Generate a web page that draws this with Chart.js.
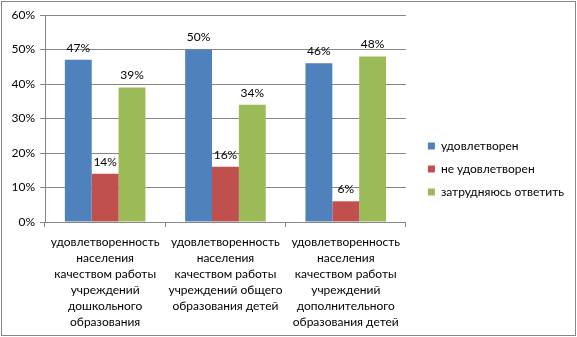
<!DOCTYPE html>
<html>
<head>
<meta charset="utf-8">
<script src="https://cdn.jsdelivr.net/npm/chart.js@4"></script>
<style>
  body { margin: 0; background: #fff; }
  #wrap { width: 577px; height: 337px; }
</style>
</head>
<body>
<div id="wrap"><canvas id="surveyChart"></canvas></div>
<script>
// data
const categories = [
    ['удовлетворенность', 'населения', 'качеством работы', 'учреждений', 'дошкольного', 'образования'],
    ['удовлетворенность', 'населения', 'качеством работы', 'учреждений общего', 'образования детей'],
    ['удовлетворенность', 'населения', 'качеством работы', 'учреждений', 'дополнительного', 'образования детей']
];
const seriesNames = ['удовлетворен', 'не удовлетворен', 'затрудняюсь ответить'];
const satisfied = [47, 50, 46];
const notSatisfied = [14, 16, 6];
const hardToSay = [39, 34, 48];
const yTicks = [0, 10, 20, 30, 40, 50, 60];

const colors = ['#4f81bd', '#c0504d', '#9bbb59'];
const fontFamily = 'Lato, "Open Sans", sans-serif';

// white background + thin frame like the Excel chart box
const frame = {
    id: 'frame',
    beforeDraw(chart) {
        const ctx = chart.ctx;
        ctx.save();
        ctx.fillStyle = '#fff';
        ctx.fillRect(0, 0, chart.width, chart.height);
        ctx.strokeStyle = '#868686';
        ctx.lineWidth = 1;
        ctx.strokeRect(1.5, 1.5, chart.width - 3, chart.height - 3);
        ctx.restore();
    }
};

// push the legend a bit away from the plot area and up
const legendGap = {
    id: 'legendGap',
    afterLayout(chart) {
        chart.legend.left += 11;
        chart.legend.right += 11;
        chart.legend.top -= 7;
        chart.legend.bottom -= 7;
    }
};

// value labels above each bar
const barLabels = {
    id: 'barLabels',
    afterDatasetsDraw(chart) {
        const ctx = chart.ctx;
        ctx.save();
        ctx.font = '12px ' + fontFamily;
        ctx.fillStyle = '#000';
        ctx.textAlign = 'center';
        ctx.textBaseline = 'bottom';
        chart.data.datasets.forEach((ds, i) => {
            chart.getDatasetMeta(i).data.forEach((bar, j) => {
                ctx.fillText(ds.data[j] + '%', bar.x, bar.y - 6);
            });
        });
        ctx.restore();
    }
};

const seriesData = [satisfied, notSatisfied, hardToSay];

new Chart(document.getElementById('surveyChart'), {
    type: 'bar',
    data: {
        labels: categories,
        datasets: seriesNames.map((name, i) => ({
            label: name,
            data: seriesData[i],
            backgroundColor: colors[i],
            barPercentage: 1,
            categoryPercentage: 0.67
        }))
    },
    options: {
        responsive: true,
        maintainAspectRatio: false,
        animation: false,
        layout: { padding: { top: 15, right: 14, left: 9, bottom: 0 } },
        plugins: {
            legend: {
                position: 'right',
                maxWidth: 220,
                labels: {
                    boxWidth: 7,
                    boxHeight: 7,
                    padding: 11,
                    color: '#000',
                    font: { family: fontFamily, size: 12 }
                }
            },
            tooltip: { enabled: false }
        },
        scales: {
            x: {
                afterFit(scale) { scale.height = 115; },
                grid: {
                    offset: true,
                    drawOnChartArea: false,
                    tickLength: 5,
                    color: '#868686'
                },
                border: { color: '#868686' },
                ticks: {
                    color: '#000',
                    maxRotation: 0,
                    padding: 7,
                    font: { family: fontFamily, size: 12, lineHeight: 1.33 }
                }
            },
            y: {
                min: 0,
                max: 60,
                afterBuildTicks(scale) {
                    scale.ticks = yTicks.map(v => ({ value: v }));
                },
                afterFit(scale) { scale.width = 36; },
                grid: { color: '#868686', tickLength: 5 },
                border: { color: '#868686' },
                ticks: {
                    color: '#000',
                    padding: 5,
                    font: { family: fontFamily, size: 12 },
                    callback: v => v + '%'
                }
            }
        }
    },
    plugins: [frame, legendGap, barLabels]
});
</script>
</body>
</html>
